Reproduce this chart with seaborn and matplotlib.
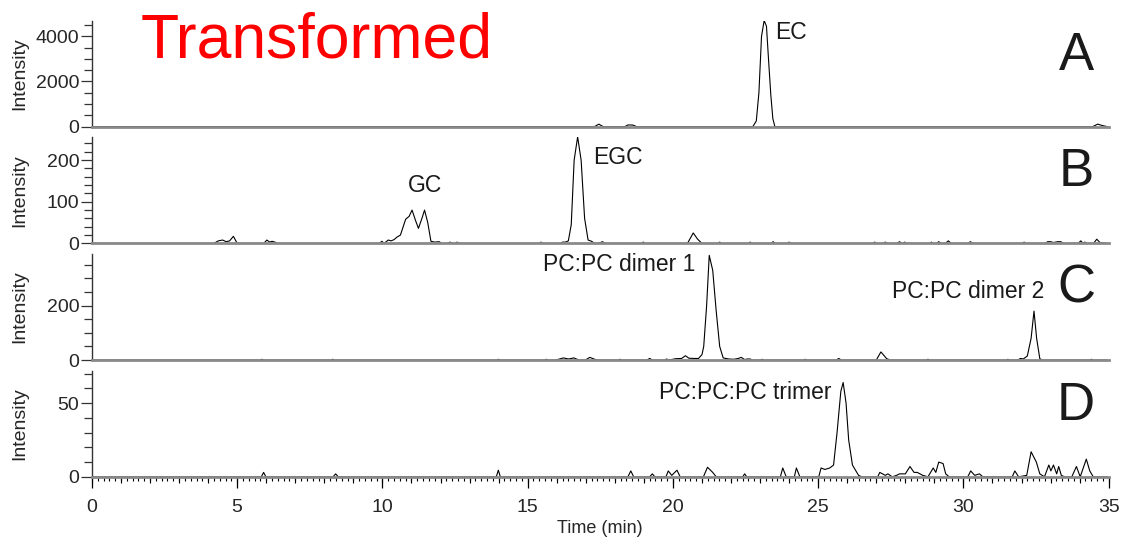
import numpy as np
import pandas as pd
import matplotlib
matplotlib.use("Agg")
import matplotlib.pyplot as plt
from matplotlib.ticker import MultipleLocator
import seaborn as sns

# chromatogram traces (time in min, intensity)
a_time = [0.0, 17.30, 17.45, 17.60, 18.35, 18.45, 18.62, 18.75,
          22.75, 22.87, 22.96, 23.05, 23.14, 23.22, 23.29, 23.37, 23.44, 23.51,
          34.45, 34.62, 34.78, 34.95]
a_int = [0, 0, 110, 0, 0, 75, 70, 0,
         0, 250, 1500, 4000, 4700, 4450, 3000, 1400, 350, 0,
         0, 110, 50, 0]

b_time = [0.0, 4.20, 4.35, 4.50, 4.62, 4.74, 4.87, 5.00,
          5.92, 6.02, 6.12, 6.20, 6.30, 6.40,
          9.90, 9.98, 10.06, 10.20, 10.30, 10.40, 10.50, 10.62, 10.80, 10.92,
          11.02, 11.14, 11.24, 11.36, 11.45, 11.56, 11.67, 11.80, 11.95, 12.05,
          12.25, 12.33, 12.41, 12.50, 12.57, 12.64,
          15.40, 15.46, 15.52,
          16.12, 16.20, 16.30, 16.40, 16.50, 16.60, 16.72, 16.84, 16.96, 17.08,
          17.20, 17.30, 17.45, 17.57, 17.68,
          18.92, 18.98, 19.04,
          20.50, 20.70, 20.85, 21.00,
          21.55, 21.61, 21.67,
          22.60, 22.66, 22.72,
          23.38, 23.45, 23.52, 23.94, 24.00, 24.06,
          26.88, 26.94, 27.02, 27.22, 27.31, 27.38, 27.72, 27.80, 27.88,
          27.92, 27.98, 28.04,
          28.84, 28.90, 28.96, 29.08, 29.15, 29.22, 29.38, 29.48, 29.58,
          30.16, 30.24, 30.32,
          32.03, 32.09, 32.15,
          32.82, 32.90, 33.00, 33.10, 33.25, 33.35, 33.45,
          33.95, 34.04, 34.12, 34.18, 34.24,
          34.48, 34.59, 34.70, 34.95]
b_int = [0, 0, 6, 8, 4, 6, 17, 0,
         0, 8, 3, 5, 3, 0,
         0, 5, 0, 8, 6, 9, 15, 20, 58, 65,
         80, 55, 36, 60, 80, 50, 5, 3, 4, 0,
         0, 3, 0, 0, 3, 0,
         0, 3, 0,
         0, 3, 3, 6, 45, 200, 256, 200, 60, 8,
         5, 0, 0, 4, 0,
         0, 3, 0,
         0, 25, 10, 0,
         0, 3, 0,
         0, 3, 0,
         0, 4, 0, 0, 3, 0,
         0, 3, 0, 0, 3, 0, 0, 4, 0,
         0, 3, 0,
         0, 3, 0, 0, 4, 0, 0, 6, 0,
         0, 4, 0,
         0, 3, 0,
         0, 4, 4, 2, 4, 4, 0,
         0, 6, 0, 3, 0,
         0, 10, 2, 0]

c_time = [0.0, 5.79, 5.85, 5.91,
          8.23, 8.29, 8.35,
          13.93, 13.99, 14.05,
          15.58, 15.64, 15.70,
          15.95, 16.10, 16.23, 16.41, 16.59, 16.77, 16.98, 17.14, 17.33, 17.45,
          18.12, 18.18, 18.24,
          19.10, 19.20, 19.30,
          19.72, 19.78, 19.84, 19.95, 20.09, 20.30, 20.43, 20.55, 20.72, 20.88,
          21.00, 21.06, 21.16, 21.25, 21.37, 21.49, 21.61, 21.73, 21.92, 22.10,
          22.25, 22.35, 22.47, 22.56, 22.66, 22.74,
          23.01, 23.07, 23.13,
          24.49, 24.55, 24.61,
          25.62, 25.71, 25.80,
          27.00, 27.16, 27.36, 27.50,
          28.70, 28.78, 28.86,
          31.47, 31.53, 31.59,
          31.88, 31.96, 32.06, 32.20, 32.33, 32.43, 32.52, 32.63, 32.72,
          34.35, 34.41, 34.47, 34.95]
c_int = [0, 0, 3, 0,
         0, 3, 0,
         0, 3, 0,
         0, 3, 0,
         0, 4, 8, 4, 8, 0, 0, 10, 2, 0,
         0, 3, 0,
         0, 6, 0,
         0, 4, 1, 2, 5, 6, 16, 7, 6, 6,
         20, 50, 200, 385, 330, 180, 50, 8, 4, 3,
         6, 10, 2, 4, 4, 0,
         0, 3, 0,
         0, 3, 0,
         0, 6, 0,
         0, 30, 5, 0,
         0, 3, 0,
         0, 3, 0,
         0, 6, 4, 15, 80, 180, 80, 5, 0,
         0, 3, 0, 0]

d_time = [0.0, 5.83, 5.91, 5.99,
          8.30, 8.39, 8.48,
          13.92, 13.99, 14.06,
          18.45, 18.55, 18.65,
          19.20, 19.29, 19.38,
          19.76, 19.84, 19.96, 20.14, 20.25,
          21.05, 21.19, 21.37, 21.49,
          22.40, 22.47, 22.54,
          23.70, 23.78, 23.90, 24.18, 24.25, 24.37,
          25.02, 25.10, 25.23, 25.40, 25.53, 25.65, 25.78, 25.86, 25.96, 26.05,
          26.18, 26.39, 26.50,
          27.05, 27.12, 27.31, 27.40, 27.55, 27.70, 27.80, 28.00, 28.16, 28.30,
          28.41, 28.60, 28.78,
          28.96, 29.05, 29.15, 29.30, 29.39, 29.51,
          30.15, 30.25, 30.39, 30.55, 30.67,
          31.68, 31.77, 31.90,
          32.18, 32.33, 32.51, 32.63, 32.79,
          32.94, 33.01, 33.10, 33.21, 33.28, 33.37, 33.48,
          33.73, 33.89, 34.02,
          34.23, 34.35, 34.47, 34.95]
d_int = [0, 0, 3, 0,
         0, 2, 0,
         0, 4.5, 0,
         0, 4, 0,
         0, 2, 0,
         0, 4, 1, 4.5, 0,
         0, 6.5, 3, 0,
         0, 2, 0,
         0, 6, 0, 0, 6, 0,
         0, 6, 5, 6, 8, 30, 58, 64, 50, 25,
         8, 1, 0,
         0, 3, 1, 2, 0, 1, 2, 2, 7, 3,
         3, 1, 0,
         6, 3, 10, 9, 2, 0,
         0, 4, 1, 2, 0,
         0, 4, 0,
         1, 17, 10, 2, 0,
         8, 4, 8, 2, 7, 1, 0,
         0, 7, 0,
         12, 4, 0, 0]

panel_letters = ["A", "B", "C", "D"]
y_tops = [4700, 255, 390, 72]
y_major = [2000, 100, 200, 50]
y_minor = [500, 20, 50, 10]

# peak labels: (panel, text, x frac, y frac, ha)
peak_labels = [
    (0, "EC", 0.672, 0.89, "left"),
    (1, "GC", 0.328, 0.55, "center"),
    (1, "EGC", 0.493, 0.81, "left"),
    (2, "PC:PC dimer 1", 0.519, 0.90, "center"),
    (2, "PC:PC dimer 2", 0.862, 0.65, "center"),
    (3, "PC:PC:PC trimer", 0.643, 0.79, "center"),
]

traces = [(a_time, a_int), (b_time, b_int), (c_time, c_int), (d_time, d_int)]

sns.set_style("ticks")
plt.rcParams["font.family"] = ["Liberation Sans", "DejaVu Sans"]

fig, axes = plt.subplots(4, 1, figsize=(11.21, 5.40), dpi=100, sharex=True)
plt.subplots_adjust(left=0.082, right=0.989, top=0.962, bottom=0.117, hspace=0.1)

for i, ax in enumerate(axes):
    t, y = traces[i]
    assert len(t) == len(y)
    df = pd.DataFrame({"time": t, "intensity": y})
    sns.lineplot(data=df, x="time", y="intensity", ax=ax, color="black",
                 lw=0.8, errorbar=None, sort=False)
    ax.set_xlim(0, 35)
    ax.set_ylim(0, y_tops[i])
    ax.yaxis.set_major_locator(MultipleLocator(y_major[i]))
    ax.yaxis.set_minor_locator(MultipleLocator(y_minor[i]))
    for s in ["top", "right"]:
        ax.spines[s].set_visible(False)
    ax.spines["left"].set_color("#333333")
    ax.spines["left"].set_linewidth(1.0)
    ax.spines["bottom"].set_color("#8a8a8a")
    ax.spines["bottom"].set_linewidth(2.0)
    ax.tick_params(axis="y", which="major", length=8, width=0.9, color="#333333",
                   labelsize=14, pad=1)
    ax.tick_params(axis="y", which="minor", length=5.5, width=0.9, color="#333333")
    ax.set_ylabel("Intensity", fontsize=14)
    ax.yaxis.set_label_coords(-0.063, 0.5)
    ax.set_xlabel("")
    ax.text(0.968, 0.67, panel_letters[i], transform=ax.transAxes,
            fontsize=38, ha="center", va="center", color="#1a1a1a")
    if i < 3:
        ax.tick_params(axis="x", which="both", bottom=False, labelbottom=False)

for i, txt, xf, yf, ha in peak_labels:
    axes[i].text(xf, yf, txt, transform=axes[i].transAxes, fontsize=16.5,
                 ha=ha, va="center", color="#1a1a1a")

axd = axes[3]
axd.xaxis.set_major_locator(MultipleLocator(5))
axd.xaxis.set_minor_locator(MultipleLocator(0.2))
axd.tick_params(axis="x", which="major", length=8, width=0.9, color="black",
                labelsize=14, pad=8, labelbottom=True)
axd.tick_params(axis="x", which="minor", length=2.8, width=0.8, color="black")
sec = axd.secondary_xaxis("bottom")
sec.xaxis.set_major_locator(MultipleLocator(1))
sec.tick_params(axis="x", length=4.5, width=0.8, color="black", labelbottom=False)
sec.spines["bottom"].set_visible(False)
axd.set_xlabel("Time (min)", fontsize=13, labelpad=3)

fig.text(0.125, 0.925, "Transformed", color="#ff0000", fontsize=45,
         ha="left", va="center")

fig.savefig("out.png", dpi=100)
